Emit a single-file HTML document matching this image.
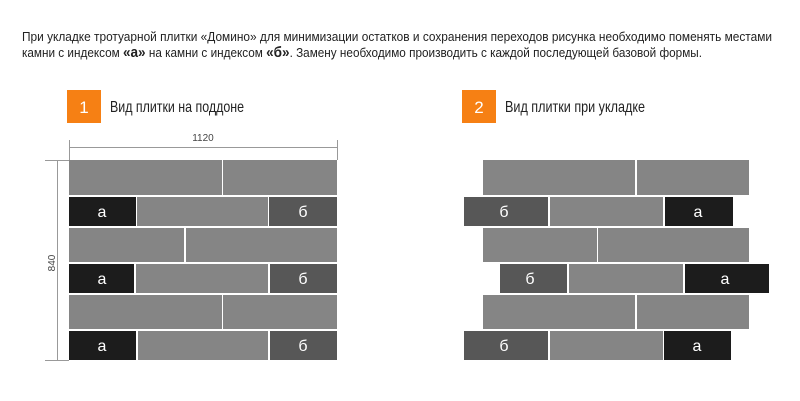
<!DOCTYPE html>
<html><head><meta charset="utf-8"><style>
html,body{margin:0;padding:0;background:#fff;}
svg{display:block;font-family:"Liberation Sans",sans-serif;}
</style></head><body>
<svg width="800" height="401" viewBox="0 0 800 401" xmlns="http://www.w3.org/2000/svg">
<rect width="800" height="401" fill="#fff"/>
<g fill="#222" font-size="13">
<text x="22" y="41" textLength="750" lengthAdjust="spacingAndGlyphs">При укладке тротуарной плитки «Домино» для минимизации остатков и сохранения переходов рисунка необходимо поменять местами</text>
<text x="22" y="57" textLength="680" lengthAdjust="spacingAndGlyphs">камни с индексом <tspan font-weight="bold" font-size="15">«а»</tspan> на камни с индексом <tspan font-weight="bold" font-size="15">«б»</tspan>. Замену необходимо производить с каждой последующей базовой формы.</text>
</g>
<rect x="67" y="90" width="34" height="33" fill="#f68014"/>
<text x="84" y="113" fill="#fff" font-size="17" text-anchor="middle">1</text>
<text x="110" y="112" fill="#222" font-size="16" textLength="134" lengthAdjust="spacingAndGlyphs">Вид плитки на поддоне</text>
<rect x="462" y="90" width="34" height="33" fill="#f68014"/>
<text x="479" y="113" fill="#fff" font-size="17" text-anchor="middle">2</text>
<text x="505" y="112" fill="#222" font-size="16" textLength="140" lengthAdjust="spacingAndGlyphs">Вид плитки при укладке</text>
<g stroke="#999" stroke-width="1" fill="none">
<line x1="69.5" y1="140" x2="69.5" y2="160"/>
<line x1="337.5" y1="140" x2="337.5" y2="160"/>
<line x1="69" y1="147.5" x2="337" y2="147.5"/>
<line x1="57.5" y1="160" x2="57.5" y2="360"/>
<line x1="45" y1="160.5" x2="90" y2="160.5"/>
<line x1="45" y1="360.5" x2="69" y2="360.5"/>
</g>
<text x="203" y="141" fill="#444" font-size="10" text-anchor="middle">1120</text>
<text transform="translate(55,263) rotate(-90)" fill="#444" font-size="10" text-anchor="middle">840</text>
<g fill="#858585">
<rect x="69" y="160" width="153" height="35"/><rect x="223" y="160" width="114" height="35"/>
<rect x="137" y="197" width="131" height="29"/>
<rect x="69" y="228" width="115" height="34"/><rect x="186" y="228" width="151" height="34"/>
<rect x="136" y="264" width="132" height="29"/>
<rect x="69" y="295" width="153" height="34"/><rect x="223" y="295" width="114" height="34"/>
<rect x="138" y="331" width="130" height="29"/>
<rect x="483" y="160" width="152" height="35"/><rect x="637" y="160" width="112" height="35"/>
<rect x="550" y="197" width="113" height="29"/>
<rect x="483" y="228" width="114" height="34"/><rect x="598" y="228" width="151" height="34"/>
<rect x="569" y="264" width="114" height="29"/>
<rect x="483" y="295" width="152" height="34"/><rect x="637" y="295" width="112" height="34"/>
<rect x="550" y="331" width="113" height="29"/>
</g>
<g fill="#1c1c1c">
<rect x="69" y="197" width="67" height="29"/><rect x="69" y="264" width="65" height="29"/><rect x="69" y="331" width="67" height="29"/>
<rect x="665" y="197" width="68" height="29"/><rect x="685" y="264" width="84" height="29"/><rect x="664" y="331" width="67" height="29"/>
</g>
<g fill="#575757">
<rect x="269" y="197" width="68" height="29"/><rect x="270" y="264" width="67" height="29"/><rect x="270" y="331" width="67" height="29"/>
<rect x="464" y="197" width="84" height="29"/><rect x="500" y="264" width="67" height="29"/><rect x="464" y="331" width="84" height="29"/>
</g>
<g fill="#fff" font-size="16" text-anchor="middle">
<text x="102" y="217">а</text><text x="102" y="284">а</text><text x="102" y="351">а</text>
<text x="303" y="217">б</text><text x="303" y="284">б</text><text x="303" y="351">б</text>
<text x="504" y="217">б</text><text x="530" y="284">б</text><text x="504" y="351">б</text>
<text x="698" y="217">а</text><text x="725" y="284">а</text><text x="697" y="351">а</text>
</g>
</svg>
</body></html>
